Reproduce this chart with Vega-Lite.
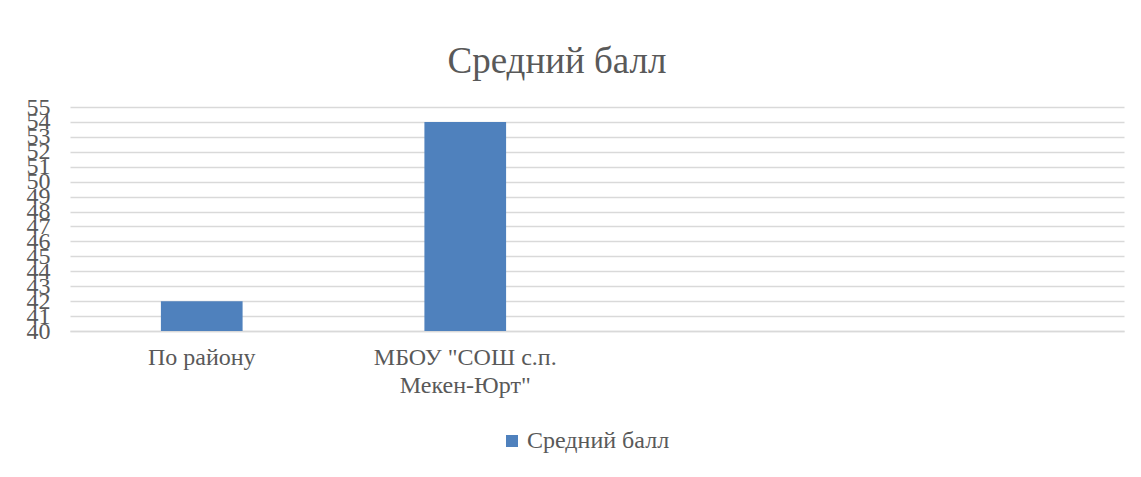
{
  "$schema": "https://vega.github.io/schema/vega-lite/v6.json",
  "width": 1054,
  "height": 224,
  "autosize": {"type": "none"},
  "padding": {"left": 70, "top": 107, "right": 17, "bottom": 146},
  "background": "white",
  "title": {
    "text": "Средний балл",
    "fontSize": 37,
    "font": "Liberation Serif",
    "fontWeight": "normal",
    "color": "#595959",
    "anchor": "middle",
    "offset": 14,
    "dx": -40
  },
  "data": {
    "values": [
      {"category": "По району", "value": 42, "series": "Средний балл"},
      {"category": "МБОУ \"СОШ  с.п.|Мекен-Юрт\"", "value": 54, "series": "Средний балл"}
    ]
  },
  "mark": {"type": "bar", "clip": true},
  "encoding": {
    "x": {
      "field": "category",
      "type": "nominal",
      "sort": null,
      "scale": {
        "domain": ["По району", "МБОУ \"СОШ  с.п.|Мекен-Юрт\"", "_3", "_4"],
        "paddingInner": 0.69,
        "paddingOuter": 0.345
      },
      "axis": {
        "title": null,
        "labelAngle": 0,
        "labelExpr": "datum.value == '_3' || datum.value == '_4' ? '' : split(datum.value, '|')",
        "labelFontSize": 24,
        "labelColor": "#595959",
        "labelFont": "Liberation Serif",
        "labelLimit": 0,
        "labelPadding": 14,
        "labelLineHeight": 28,
        "ticks": false,
        "domainColor": "#d9d9d9",
        "domainWidth": 1.3
      }
    },
    "y": {
      "field": "value",
      "type": "quantitative",
      "scale": {"domain": [40, 55], "zero": false, "nice": false},
      "axis": {
        "title": null,
        "values": [40, 41, 42, 43, 44, 45, 46, 47, 48, 49, 50, 51, 52, 53, 54, 55],
        "labelFontSize": 24,
        "labelColor": "#595959",
        "labelFont": "Liberation Serif",
        "labelPadding": 20,
        "labelOverlap": false,
        "ticks": false,
        "domain": false,
        "gridColor": "#d9d9d9",
        "gridWidth": 1.3
      }
    },
    "y2": {"datum": 40},
    "color": {
      "field": "series",
      "type": "nominal",
      "scale": {"range": ["#4f81bd"]},
      "legend": {
        "title": null,
        "orient": "none",
        "legendX": 430,
        "legendY": 322,
        "direction": "horizontal",
        "symbolType": "square",
        "symbolSize": 144,
        "symbolStrokeWidth": 0,
        "labelFontSize": 24,
        "labelColor": "#595959",
        "labelFont": "Liberation Serif",
        "labelOffset": 3
      }
    }
  },
  "config": {
    "font": "Liberation Serif",
    "view": {"stroke": null}
  }
}
